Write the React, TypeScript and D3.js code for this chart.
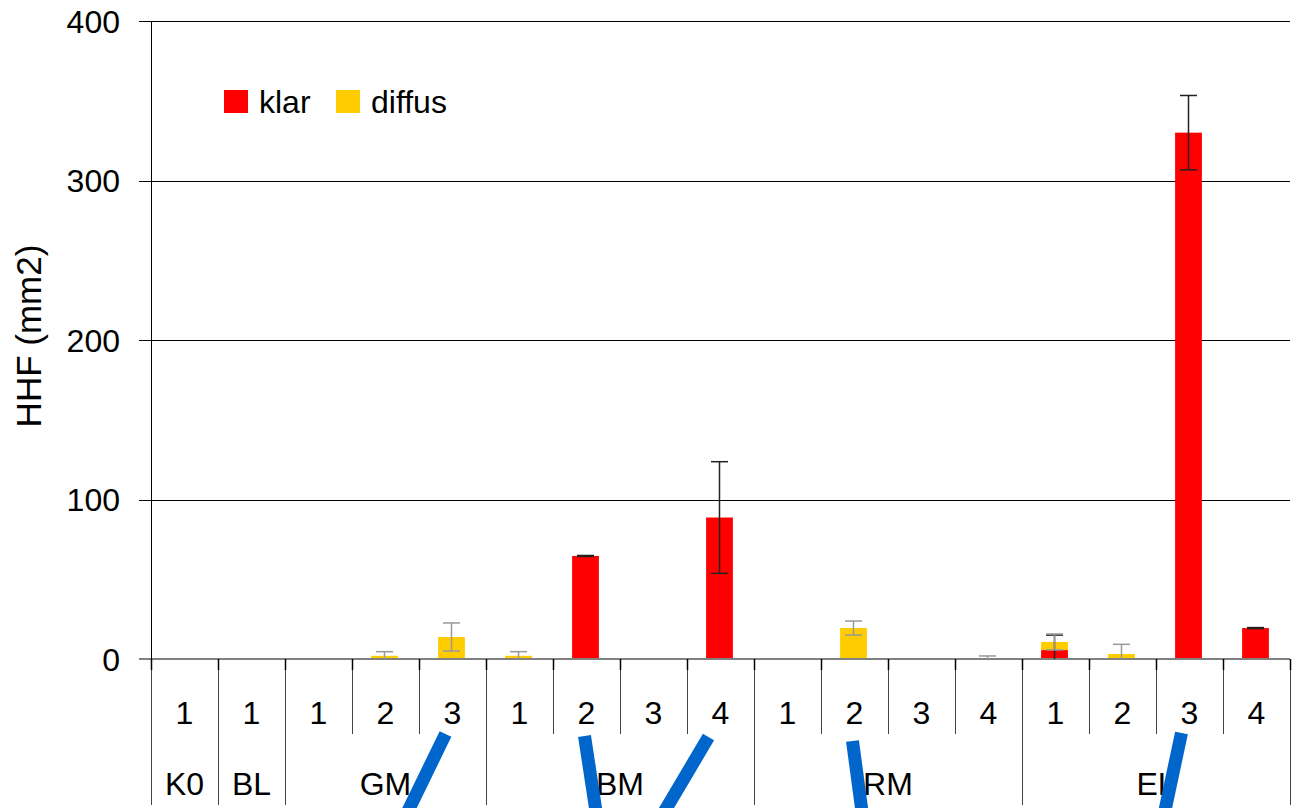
import React from "react";
import * as d3 from "d3";

const groups = ["K0", "BL", "GM", "BM", "RM", "EL"];
const groupSizes = [1, 1, 3, 4, 4, 4];
const subLabels = ["1", "1", "1", "2", "3", "1", "2", "3", "4", "1", "2", "3", "4", "1", "2", "3", "4"];
const klar = [0, 0, 0, 0, 0, 0, 64.6, 0, 88.7, 0, 0, 0, 0, 5.6, 0, 330, 19.4];
const klarErr = [0, 0, 0, 0, 0, 0, 0.3, 0, 35, 0, 0, 0, 0, 9.4, 0, 23.3, 0.3];
const diffus = [0, 0, 0, 2, 13.8, 2, 0, 0, 0, 0, 19.4, 0, 0.4, 5.1, 3.1, 0, 0];
const diffusErr = [0, 0, 0, 2.6, 8.8, 2.6, 0, 0, 0, 0, 4.4, 0, 1.5, 5.0, 6.1, 0, 0];
const yTicks = [0, 100, 200, 300, 400];
const seriesNames = ["klar", "diffus"];
const seriesColors = ["#FF0000", "#FFCC00"];
const errColors = ["#222222", "#999999"];

// blue hand-drawn annotation strokes: category index, offsets from band centre
const annotations = [
  { cat: 4, dx1: -7, y1: 734, dx2: -43, y2: 808 },
  { cat: 6, dx1: -2, y1: 736, dx2: 9, y2: 808 },
  { cat: 8, dx1: -12, y1: 737, dx2: -54, y2: 808 },
  { cat: 10, dx1: -2, y1: 741, dx2: 7, y2: 808 },
  { cat: 15, dx1: -8, y1: 733, dx2: -24, y2: 808 },
];

const W = 1298;
const H = 808;
const left = 151;
const right = 1290;
const top = 21;
const base = 659;
const FONT = "Arial, 'Liberation Sans', sans-serif";

export default function App() {
  const idx = subLabels.map((_, i) => i);
  const x = d3.scaleBand<number>().domain(idx).range([left, right]).padding(0);
  const y = d3.scaleLinear().domain([0, 400]).range([base, top]);
  const bw = x.bandwidth();
  const barW = bw * 0.4;
  const cx = (i: number) => (x(i) as number) + bw / 2 - 1;

  const groupStarts: number[] = [];
  let acc = 0;
  groupSizes.forEach((s) => {
    groupStarts.push(acc);
    acc += s;
  });
  const groupBoundarySet = new Set<number>([...groupStarts, subLabels.length]);

  const stack = idx.map((i) => ({ k: klar[i], d: diffus[i] }));

  const errBar = (i: number, center: number, e: number, color: string, key: string) => {
    if (e <= 0) return null;
    const hi = y(center + e);
    const lo = y(Math.max(0, center - e));
    const xc = cx(i);
    return (
      <g key={key} stroke={color} strokeWidth={1.5}>
        <line x1={xc} x2={xc} y1={hi} y2={lo} />
        <line x1={xc - 8.5} x2={xc + 8.5} y1={hi} y2={hi} />
        {center - e >= 0 && <line x1={xc - 8.5} x2={xc + 8.5} y1={lo} y2={lo} />}
      </g>
    );
  };

  return (
    <div style={{ position: "absolute", left: 0, top: 0 }}>
      <svg width={W} height={H} style={{ display: "block", fontFamily: FONT }}>
        <rect width={W} height={H} fill="#fff" />
        {yTicks.map((t) => (
          <g key={t}>
            {t > 0 && (
              <line x1={left} x2={right} y1={Math.round(y(t)) + 0.5} y2={Math.round(y(t)) + 0.5} stroke="#000" strokeWidth={1} />
            )}
            <line x1={139} x2={left} y1={Math.round(y(t)) + 0.5} y2={Math.round(y(t)) + 0.5} stroke="#000" strokeWidth={1} />
            <text x={120} y={y(t)} dy="0.36em" textAnchor="end" fontSize={32} fill="#000">
              {t}
            </text>
          </g>
        ))}
        {stack.map((s, i) => (
          <g key={i}>
            {s.k > 0 && <rect x={cx(i) - barW / 2} width={barW} y={y(s.k)} height={y(0) - y(s.k)} fill={seriesColors[0]} />}
            {s.d > 0 && (
              <rect x={cx(i) - barW / 2} width={barW} y={y(s.k + s.d)} height={y(s.k) - y(s.k + s.d)} fill={seriesColors[1]} />
            )}
          </g>
        ))}
        <line x1={139} x2={right} y1={base} y2={base} stroke="#808080" strokeWidth={2} />
        <line x1={left + 0.5} x2={left + 0.5} y1={top} y2={base} stroke="#000" strokeWidth={1} />
        {idx.map((i) => errBar(i, stack[i].k, klarErr[i], errColors[0], `k${i}`))}
        {idx.map((i) => errBar(i, stack[i].k + stack[i].d, diffusErr[i], errColors[1], `d${i}`))}
        {d3.range(subLabels.length + 1).map((b) => {
          const xb = b === subLabels.length ? right : (x(b) as number);
          const isGroup = groupBoundarySet.has(b);
          return (
            <g key={b}>
              <line x1={xb + 0.5} x2={xb + 0.5} y1={base} y2={isGroup ? 805 : 734} stroke="#444" strokeWidth={1} />
              <line x1={xb + 0.5} x2={xb + 0.5} y1={base} y2={670} stroke="#000" strokeWidth={1.5} />
            </g>
          );
        })}
        {subLabels.map((l, i) => (
          <text key={i} x={cx(i) + 1} y={724} textAnchor="middle" fontSize={32} fill="#000">
            {l}
          </text>
        ))}
        {groups.map((g, gi) => {
          const s = groupStarts[gi];
          const e = s + groupSizes[gi];
          const x0 = x(s) as number;
          const x1 = e === subLabels.length ? right : (x(e) as number);
          return (
            <text key={g} x={(x0 + x1) / 2} y={795} textAnchor="middle" fontSize={32} fill="#000">
              {g}
            </text>
          );
        })}
        <text transform={`translate(41,336) rotate(-90)`} textAnchor="middle" fontSize={35} fill="#000">
          HHF (mm2)
        </text>
        <g>
          <rect x={224} y={90} width={24} height={23} fill={seriesColors[0]} />
          <text x={259} y={113} fontSize={32} fill="#000">
            {seriesNames[0]}
          </text>
          <rect x={336} y={90} width={24} height={23} fill={seriesColors[1]} />
          <text x={371} y={113} fontSize={32} fill="#000">
            {seriesNames[1]}
          </text>
        </g>
        {annotations.map((a, i) => {
          const c = (x(a.cat) as number) + bw / 2;
          const x1 = c + a.dx1;
          const x2 = c + a.dx2;
          const ext = 15;
          const len = Math.hypot(x2 - x1, a.y2 - a.y1);
          const ex = x2 + ((x2 - x1) / len) * ext;
          const ey = a.y2 + ((a.y2 - a.y1) / len) * ext;
          return <line key={i} x1={x1} y1={a.y1} x2={ex} y2={ey} stroke="#0066CC" strokeWidth={13} />;
        })}
      </svg>
    </div>
  );
}
